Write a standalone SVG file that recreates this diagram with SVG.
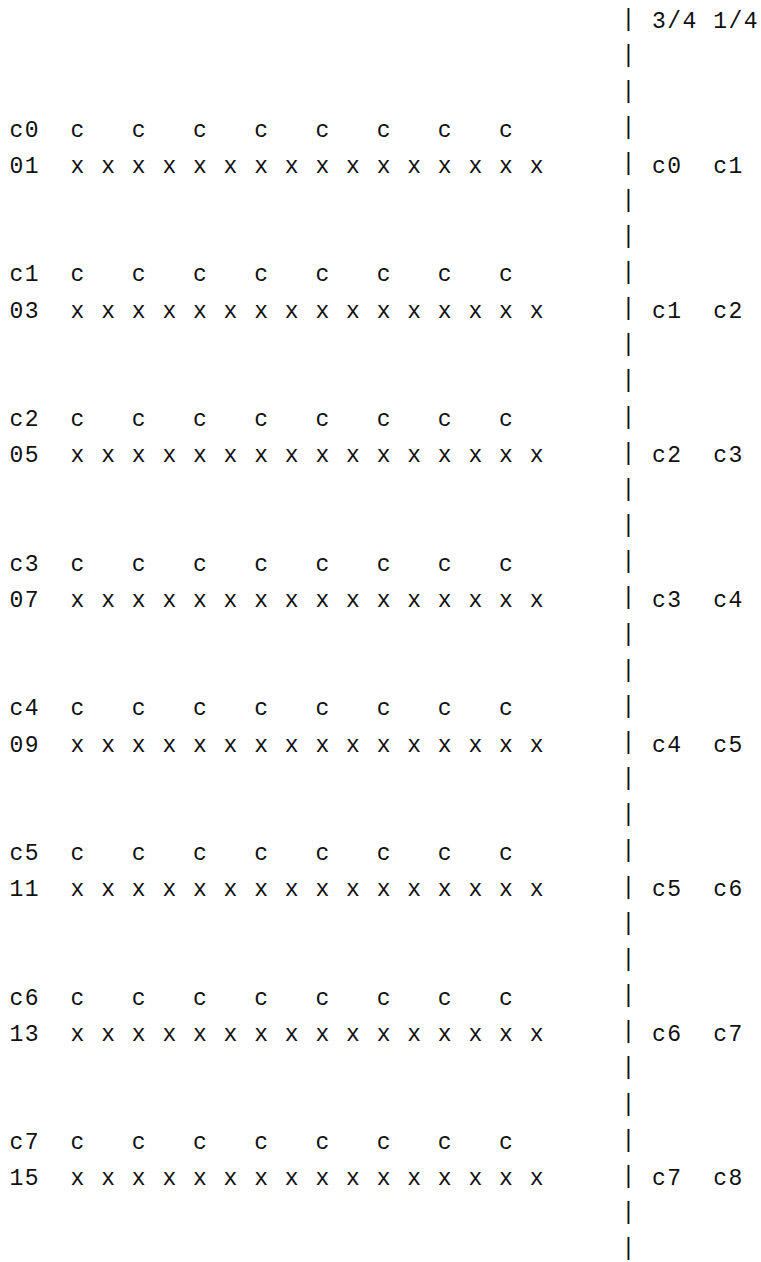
<svg xmlns="http://www.w3.org/2000/svg" width="761" height="1262" viewBox="0 0 761 1262">
<style>
.t{font-family:"Liberation Mono","DejaVu Sans Mono",monospace;font-size:23px;letter-spacing:1.5px;white-space:pre;fill:#111}
</style>
<rect width="761" height="1262" fill="#fff"/>
<g id="divider">
<text class="t" x="621.4" xml:space="preserve"><tspan x="621.4" y="25.8">|</tspan><tspan x="621.4" y="61.96">|</tspan><tspan x="621.4" y="98.12">|</tspan><tspan x="621.4" y="134.28">|</tspan><tspan x="621.4" y="170.44">|</tspan><tspan x="621.4" y="206.6">|</tspan><tspan x="621.4" y="242.76">|</tspan><tspan x="621.4" y="278.92">|</tspan><tspan x="621.4" y="315.08">|</tspan><tspan x="621.4" y="351.24">|</tspan><tspan x="621.4" y="387.4">|</tspan><tspan x="621.4" y="423.56">|</tspan><tspan x="621.4" y="459.72">|</tspan><tspan x="621.4" y="495.88">|</tspan><tspan x="621.4" y="532.04">|</tspan><tspan x="621.4" y="568.2">|</tspan><tspan x="621.4" y="604.36">|</tspan><tspan x="621.4" y="640.52">|</tspan><tspan x="621.4" y="676.68">|</tspan><tspan x="621.4" y="712.84">|</tspan><tspan x="621.4" y="749">|</tspan><tspan x="621.4" y="785.16">|</tspan><tspan x="621.4" y="821.32">|</tspan><tspan x="621.4" y="857.48">|</tspan><tspan x="621.4" y="893.64">|</tspan><tspan x="621.4" y="929.8">|</tspan><tspan x="621.4" y="965.96">|</tspan><tspan x="621.4" y="1002.12">|</tspan><tspan x="621.4" y="1038.28">|</tspan><tspan x="621.4" y="1074.44">|</tspan><tspan x="621.4" y="1110.6">|</tspan><tspan x="621.4" y="1146.76">|</tspan><tspan x="621.4" y="1182.92">|</tspan><tspan x="621.4" y="1219.08">|</tspan><tspan x="621.4" y="1255.24">|</tspan></text>
<text id="header" class="t" x="652" y="28.3" xml:space="preserve">3/4 1/4</text>
</g>
<g id="block-c0">
<text class="t" x="9.4" y="136.78" xml:space="preserve">c0  c   c   c   c   c   c   c   c</text>
<text class="t" x="9.4" y="172.94" xml:space="preserve">01  x x x x x x x x x x x x x x x x</text>
<text class="t" x="652" y="172.94" xml:space="preserve">c0  c1</text>
</g>
<g id="block-c1">
<text class="t" x="9.4" y="281.42" xml:space="preserve">c1  c   c   c   c   c   c   c   c</text>
<text class="t" x="9.4" y="317.58" xml:space="preserve">03  x x x x x x x x x x x x x x x x</text>
<text class="t" x="652" y="317.58" xml:space="preserve">c1  c2</text>
</g>
<g id="block-c2">
<text class="t" x="9.4" y="426.06" xml:space="preserve">c2  c   c   c   c   c   c   c   c</text>
<text class="t" x="9.4" y="462.22" xml:space="preserve">05  x x x x x x x x x x x x x x x x</text>
<text class="t" x="652" y="462.22" xml:space="preserve">c2  c3</text>
</g>
<g id="block-c3">
<text class="t" x="9.4" y="570.7" xml:space="preserve">c3  c   c   c   c   c   c   c   c</text>
<text class="t" x="9.4" y="606.86" xml:space="preserve">07  x x x x x x x x x x x x x x x x</text>
<text class="t" x="652" y="606.86" xml:space="preserve">c3  c4</text>
</g>
<g id="block-c4">
<text class="t" x="9.4" y="715.34" xml:space="preserve">c4  c   c   c   c   c   c   c   c</text>
<text class="t" x="9.4" y="751.5" xml:space="preserve">09  x x x x x x x x x x x x x x x x</text>
<text class="t" x="652" y="751.5" xml:space="preserve">c4  c5</text>
</g>
<g id="block-c5">
<text class="t" x="9.4" y="859.98" xml:space="preserve">c5  c   c   c   c   c   c   c   c</text>
<text class="t" x="9.4" y="896.14" xml:space="preserve">11  x x x x x x x x x x x x x x x x</text>
<text class="t" x="652" y="896.14" xml:space="preserve">c5  c6</text>
</g>
<g id="block-c6">
<text class="t" x="9.4" y="1004.62" xml:space="preserve">c6  c   c   c   c   c   c   c   c</text>
<text class="t" x="9.4" y="1040.78" xml:space="preserve">13  x x x x x x x x x x x x x x x x</text>
<text class="t" x="652" y="1040.78" xml:space="preserve">c6  c7</text>
</g>
<g id="block-c7">
<text class="t" x="9.4" y="1149.26" xml:space="preserve">c7  c   c   c   c   c   c   c   c</text>
<text class="t" x="9.4" y="1185.42" xml:space="preserve">15  x x x x x x x x x x x x x x x x</text>
<text class="t" x="652" y="1185.42" xml:space="preserve">c7  c8</text>
</g>
</svg>
